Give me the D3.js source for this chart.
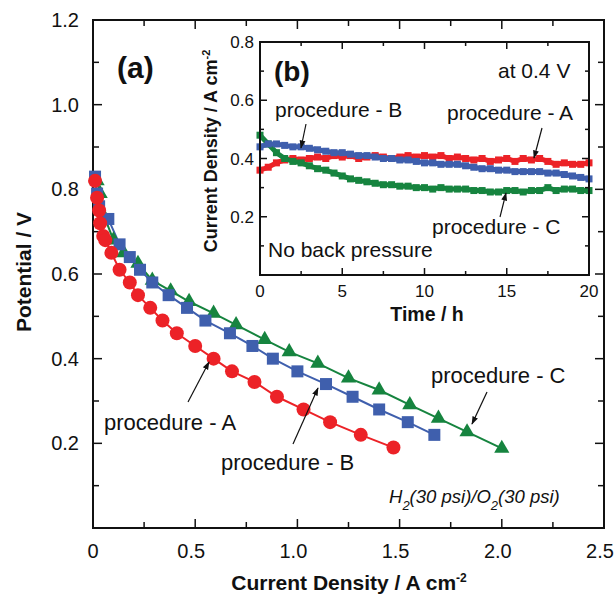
<!DOCTYPE html>
<html>
<head>
<meta charset="utf-8">
<script src="https://cdn.jsdelivr.net/npm/d3@7"></script>
<style>
  body { margin: 0; background: #fff; }
  svg text { font-family: "Liberation Sans", Arial, sans-serif; fill: #111; }
</style>
</head>
<body>
<div id="chart"></div>
<script>
// ── Data: polarization curves (main panel) ───────────────────────────────
const polA_x = [0.01, 0.02, 0.03, 0.035, 0.05, 0.06, 0.09, 0.13, 0.18, 0.22, 0.28, 0.34, 0.41, 0.5, 0.59, 0.68, 0.79, 0.9, 1.03, 1.16, 1.31, 1.47];
const polA_y = [0.82, 0.78, 0.75, 0.72, 0.69, 0.68, 0.65, 0.61, 0.58, 0.55, 0.52, 0.49, 0.46, 0.43, 0.40, 0.37, 0.345, 0.31, 0.28, 0.25, 0.22, 0.19];
const polB_x = [0.01, 0.02, 0.03, 0.075, 0.13, 0.18, 0.23, 0.29, 0.37, 0.46, 0.55, 0.67, 0.78, 0.88, 1.0, 1.14, 1.27, 1.4, 1.54, 1.67];
const polB_y = [0.83, 0.79, 0.76, 0.73, 0.67, 0.64, 0.61, 0.58, 0.55, 0.52, 0.49, 0.46, 0.43, 0.40, 0.37, 0.34, 0.31, 0.28, 0.25, 0.22];
const polC_x = [0.02, 0.035, 0.06, 0.1, 0.15, 0.22, 0.29, 0.38, 0.47, 0.59, 0.70, 0.84, 0.96, 1.10, 1.25, 1.40, 1.55, 1.69, 1.83, 2.0];
const polC_y = [0.82, 0.79, 0.73, 0.68, 0.65, 0.625, 0.585, 0.56, 0.535, 0.507, 0.48, 0.445, 0.416, 0.389, 0.354, 0.326, 0.291, 0.259, 0.227, 0.188];

// ── Data: durability at 0.4 V (inset) ────────────────────────────────────
const time_h = [0, 0.5, 1, 1.5, 2, 2.5, 3, 3.5, 4, 4.5, 5, 5.5, 6, 6.5, 7, 7.5, 8, 8.5, 9, 9.5, 10, 10.5, 11, 11.5, 12, 12.5, 13, 13.5, 14, 14.5, 15, 15.5, 16, 16.5, 17, 17.5, 18, 18.5, 19, 19.5, 20];
const durA = [0.36, 0.37, 0.385, 0.395, 0.40, 0.395, 0.40, 0.405, 0.40, 0.41, 0.405, 0.41, 0.40, 0.405, 0.41, 0.405, 0.40, 0.405, 0.41, 0.405, 0.41, 0.405, 0.41, 0.40, 0.405, 0.40, 0.395, 0.40, 0.39, 0.395, 0.40, 0.39, 0.40, 0.395, 0.40, 0.39, 0.38, 0.385, 0.38, 0.38, 0.385];
const durB = [0.44, 0.45, 0.45, 0.445, 0.44, 0.44, 0.435, 0.43, 0.425, 0.42, 0.42, 0.415, 0.41, 0.41, 0.405, 0.40, 0.40, 0.395, 0.395, 0.39, 0.385, 0.385, 0.38, 0.38, 0.38, 0.375, 0.37, 0.365, 0.365, 0.36, 0.36, 0.355, 0.355, 0.355, 0.355, 0.35, 0.35, 0.345, 0.34, 0.335, 0.33];
const durC = [0.48, 0.45, 0.42, 0.40, 0.39, 0.385, 0.375, 0.365, 0.36, 0.35, 0.34, 0.33, 0.325, 0.32, 0.315, 0.31, 0.31, 0.305, 0.305, 0.30, 0.30, 0.295, 0.30, 0.295, 0.295, 0.295, 0.29, 0.29, 0.285, 0.285, 0.29, 0.29, 0.285, 0.29, 0.29, 0.30, 0.29, 0.295, 0.295, 0.29, 0.29];

// ── Tick labels ──────────────────────────────────────────────────────────
const mainXTicks = [0, 0.5, 1.0, 1.5, 2.0, 2.5];
const mainYTicks = [0.2, 0.4, 0.6, 0.8, 1.0, 1.2];
const insetXTicks = [0, 5, 10, 15, 20];
const insetYTicks = [0.2, 0.4, 0.6, 0.8];

const RED = "#ec2227";
const BLUE = "#3f5fad";
const GREEN = "#16843f";

// ── SVG ──────────────────────────────────────────────────────────────────
const W = 616, H = 596;
const svg = d3.select("#chart").append("svg").attr("width", W).attr("height", H);

svg.append("defs").append("marker")
  .attr("id", "arrow")
  .attr("viewBox", "0 0 10 10")
  .attr("refX", 9).attr("refY", 5)
  .attr("markerWidth", 7).attr("markerHeight", 7)
  .attr("orient", "auto")
  .append("path").attr("d", "M0,1.5 L10,5 L0,8.5 Z").attr("fill", "#111");

// ── Main scales ──────────────────────────────────────────────────────────
const x = d3.scaleLinear().domain([0, 2.5]).range([93, 604]);
const y = d3.scaleLinear().domain([0, 1.2]).range([528, 20]);

// frame ticks helper: inward ticks on all four sides
function frame(g, xs, ys, xMaj, xMin, yMaj, yMin, lenMaj, lenMin) {
  const [x0, x1] = xs.range();
  const [y0, y1] = ys.range();
  xMin.forEach((v) => {
    const big = xMaj.some((m) => Math.abs(m - v) < 1e-9);
    const L = big ? lenMaj : lenMin;
    g.append("line").attr("x1", xs(v)).attr("x2", xs(v)).attr("y1", y0).attr("y2", y0 - L);
    g.append("line").attr("x1", xs(v)).attr("x2", xs(v)).attr("y1", y1).attr("y2", y1 + L);
  });
  yMin.forEach((v) => {
    const big = yMaj.some((m) => Math.abs(m - v) < 1e-9);
    const L = big ? lenMaj : lenMin;
    g.append("line").attr("x1", x0).attr("x2", x0 + L).attr("y1", ys(v)).attr("y2", ys(v));
    g.append("line").attr("x1", x1).attr("x2", x1 - L).attr("y1", ys(v)).attr("y2", ys(v));
  });
  g.selectAll("line").attr("stroke", "#111").attr("stroke-width", 1.5);
  g.append("rect")
    .attr("x", x0).attr("y", y1).attr("width", x1 - x0).attr("height", y0 - y1)
    .attr("fill", "none").attr("stroke", "#111").attr("stroke-width", 2);
}

const mainFrame = svg.append("g");
frame(mainFrame, x, y,
  mainXTicks, d3.range(0, 2.51, 0.25),
  [0, ...mainYTicks], d3.range(0, 1.21, 0.1),
  9, 6);

svg.append("g").selectAll("text").data(mainXTicks).join("text")
  .attr("x", (d) => x(d) - (d === 0 ? 0 : 4)).attr("y", 558)
  .attr("text-anchor", "middle").style("font-size", "20px")
  .text((d) => (d === 0 ? "0" : d.toFixed(1)));

svg.append("g").selectAll("text").data(mainYTicks).join("text")
  .attr("x", 79).attr("y", (d) => y(d) + 7)
  .attr("text-anchor", "end").style("font-size", "20px")
  .text((d) => d.toFixed(1));

svg.append("text")
  .attr("transform", `translate(31, ${(y(0) + y(1.2)) / 2 - 2}) rotate(-90)`)
  .attr("text-anchor", "middle")
  .style("font-size", "21px").style("font-weight", "700")
  .text("Potential / V");

const xl = svg.append("text")
  .attr("x", 349).attr("y", 590)
  .attr("text-anchor", "middle")
  .style("font-size", "21px").style("font-weight", "700");
xl.append("tspan").text("Current Density / A cm");
xl.append("tspan").attr("dy", -8).style("font-size", "12px").text("-2");

// ── Main series ──────────────────────────────────────────────────────────
const line = d3.line().x((d) => x(d[0])).y((d) => y(d[1]));
const zip = (a, b) => a.map((v, i) => [v, b[i]]);

const main = svg.append("g");

main.append("path").datum(zip(polA_x, polA_y))
  .attr("d", line).attr("fill", "none").attr("stroke", RED).attr("stroke-width", 2);
main.append("path").datum(zip(polB_x, polB_y))
  .attr("d", line).attr("fill", "none").attr("stroke", BLUE).attr("stroke-width", 2);
main.append("path").datum(zip(polC_x, polC_y))
  .attr("d", line).attr("fill", "none").attr("stroke", GREEN).attr("stroke-width", 2);

main.selectAll(".tri").data(zip(polC_x, polC_y)).join("path")
  .attr("class", "tri")
  .attr("transform", (d) => `translate(${x(d[0])},${y(d[1])})`)
  .attr("d", d3.symbol(d3.symbolTriangle, 100))
  .attr("fill", GREEN);

main.selectAll(".sq").data(zip(polB_x, polB_y)).join("rect")
  .attr("class", "sq")
  .attr("x", (d) => x(d[0]) - 6).attr("y", (d) => y(d[1]) - 6)
  .attr("width", 12).attr("height", 12)
  .attr("fill", BLUE);

main.selectAll(".dot").data(zip(polA_x, polA_y)).join("circle")
  .attr("class", "dot")
  .attr("cx", (d) => x(d[0])).attr("cy", (d) => y(d[1]))
  .attr("r", 7)
  .attr("fill", RED);

// ── Main annotations ─────────────────────────────────────────────────────
svg.append("text").attr("x", 117).attr("y", 78)
  .style("font-size", "30px").style("font-weight", "700").text("(a)");

const notes = svg.append("g").style("font-size", "22px");
notes.append("text").attr("x", 104).attr("y", 430).text("procedure - A");
notes.append("text").attr("x", 221).attr("y", 470).text("procedure - B");
notes.append("text").attr("x", 431).attr("y", 383).text("procedure - C");

const arrows = [
  [188, 402, 209, 362],
  [293, 444, 318, 388],
  [487, 392, 472, 424],
];
svg.append("g").selectAll("line").data(arrows).join("line")
  .attr("x1", (d) => d[0]).attr("y1", (d) => d[1])
  .attr("x2", (d) => d[2]).attr("y2", (d) => d[3])
  .attr("stroke", "#111").attr("stroke-width", 1.2)
  .attr("marker-end", "url(#arrow)");

const gas = svg.append("text").attr("x", 389).attr("y", 503)
  .style("font-size", "18.5px").style("font-style", "italic");
gas.append("tspan").text("H");
gas.append("tspan").attr("dy", 7).style("font-size", "13px").text("2");
gas.append("tspan").attr("dy", -7).text("(30 psi)/O");
gas.append("tspan").attr("dy", 7).style("font-size", "13px").text("2");
gas.append("tspan").attr("dy", -7).text("(30 psi)");

// ── Inset ────────────────────────────────────────────────────────────────
const ix = d3.scaleLinear().domain([0, 20]).range([260, 589]);
const iy = d3.scaleLinear().domain([0, 0.8]).range([275, 42]);

svg.append("rect").attr("x", 260).attr("y", 42).attr("width", 329).attr("height", 233).attr("fill", "#fff");

const inset = svg.append("g");

const iline = d3.line().x((d) => ix(d[0])).y((d) => iy(d[1]));
[[durA, RED], [durC, GREEN], [durB, BLUE]].forEach(([vals, col]) => {
  const pts = zip(time_h, vals);
  inset.append("path").datum(pts).attr("d", iline)
    .attr("fill", "none").attr("stroke", col).attr("stroke-width", 5);
  inset.append("g").selectAll("rect").data(pts).join("rect")
    .attr("x", (d) => ix(d[0]) - 3.5).attr("y", (d) => iy(d[1]) - 3.5)
    .attr("width", 7).attr("height", 7).attr("fill", col);
});

const insetFrame = svg.append("g");
frame(insetFrame, ix, iy,
  insetXTicks, d3.range(0, 20.1, 2.5),
  [0, ...insetYTicks], d3.range(0, 0.81, 0.1),
  7, 4);

svg.append("g").selectAll("text").data(insetXTicks).join("text")
  .attr("x", (d) => ix(d)).attr("y", 297)
  .attr("text-anchor", "middle").style("font-size", "17px")
  .text((d) => d);

svg.append("g").selectAll("text").data(insetYTicks).join("text")
  .attr("x", 254).attr("y", (d) => iy(d) + 6)
  .attr("text-anchor", "end").style("font-size", "17px")
  .text((d) => d.toFixed(1));

const iyl = svg.append("text")
  .attr("transform", `translate(217, 151) rotate(-90)`)
  .attr("text-anchor", "middle")
  .style("font-size", "18px").style("font-weight", "700");
iyl.append("tspan").text("Current Density / A cm");
iyl.append("tspan").attr("dy", -7).style("font-size", "11px").text("-2");

svg.append("text").attr("x", 427).attr("y", 321)
  .attr("text-anchor", "middle")
  .style("font-size", "19.5px").style("font-weight", "700")
  .text("Time / h");

svg.append("text").attr("x", 274).attr("y", 81)
  .style("font-size", "28px").style("font-weight", "700").text("(b)");

const inotes = svg.append("g").style("font-size", "21px");
inotes.append("text").attr("x", 498).attr("y", 78).text("at 0.4 V");
inotes.append("text").attr("x", 275).attr("y", 117).text("procedure - B");
inotes.append("text").attr("x", 447).attr("y", 120).text("procedure - A");
inotes.append("text").attr("x", 432).attr("y", 234).text("procedure - C");
inotes.append("text").attr("x", 268).attr("y", 257).text("No back pressure");

const iarrows = [
  [306, 124, 301, 148],
  [542, 128, 534, 158],
  [500, 217, 506, 193],
];
svg.append("g").selectAll("line").data(iarrows).join("line")
  .attr("x1", (d) => d[0]).attr("y1", (d) => d[1])
  .attr("x2", (d) => d[2]).attr("y2", (d) => d[3])
  .attr("stroke", "#111").attr("stroke-width", 1.2)
  .attr("marker-end", "url(#arrow)");
</script>
</body>
</html>
